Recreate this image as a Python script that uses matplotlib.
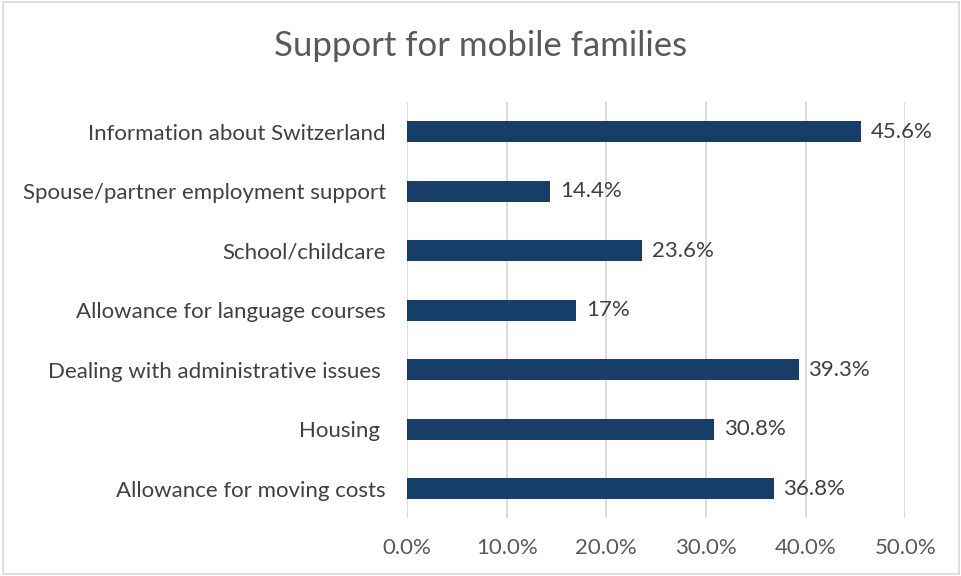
import matplotlib.pyplot as plt
from matplotlib.patches import Rectangle

categories = [
    "Allowance for moving costs",
    "Housing ",
    "Dealing with administrative issues ",
    "Allowance for language courses",
    "School/childcare",
    "Spouse/partner employment support",
    "Information about Switzerland",
]
values = [36.8, 30.8, 39.3, 17.0, 23.6, 14.4, 45.6]
value_labels = ["36.8%", "30.8%", "39.3%", "17%", "23.6%", "14.4%", "45.6%"]
xticks = [0, 10, 20, 30, 40, 50]

plt.rcParams['font.family'] = ['Lato', 'DejaVu Sans']

fig = plt.figure(figsize=(9.62, 5.76), dpi=100)
ax = fig.add_axes([0.423, 0.100, 0.518, 0.723])

ax.barh(range(len(categories)), values, height=0.35, color='#173E69', zorder=3)
ax.set_ylim(-0.5, len(categories) - 0.5)
ax.set_xlim(0, 50)
ax.set_xticks(xticks)
ax.set_xticklabels([f"{t:.1f}%" for t in xticks], fontsize=16, color='#595959')
ax.set_yticks(range(len(categories)))
ax.set_yticklabels(categories, fontsize=16, color='#404040')
ax.tick_params(length=0)
ax.tick_params(axis='y', pad=15)
ax.tick_params(axis='x', pad=14)
ax.xaxis.grid(True, color='#D9D9D9', linewidth=1.3, zorder=0)
for s in ax.spines.values():
    s.set_visible(False)

for i, (v, lab) in enumerate(zip(values, value_labels)):
    ax.annotate(lab, (v, i), xytext=(7, 0), textcoords='offset points',
                va='center', ha='left', fontsize=16, color='#404040')

fig.text(0.5, 0.92, "Support for mobile families", ha='center', va='center',
         fontsize=25, color='#595959')

# chart border
fig.add_artist(Rectangle((0.003, 0.003), 0.994, 0.993, transform=fig.transFigure,
                         fill=False, edgecolor='#D9D9D9', linewidth=1.2))

fig.savefig('out.png', dpi=100)
